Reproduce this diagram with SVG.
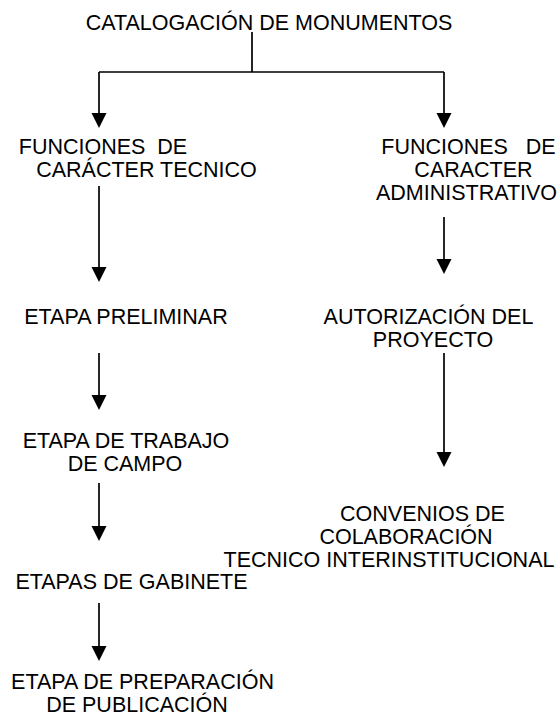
<svg xmlns="http://www.w3.org/2000/svg" width="559" height="717" viewBox="0 0 559 717">
<style>
text{font-family:"Liberation Sans",Arial,sans-serif;font-size:21.5px;fill:#000;white-space:pre;text-anchor:middle}
.c{stroke:#000;stroke-width:1.7;fill:none}
.h{fill:#000}
</style>
<rect width="559" height="717" fill="#fff"/>
<g id="connectors">
<path class="c" d="M252,32 V72 M99,72 H444"/>
<path class="c" d="M99,72 V113"/><path class="h" d="M91.5,113 L106.5,113 L99,128 Z"/>
<path class="c" d="M444,72 V113"/><path class="h" d="M436.5,113 L451.5,113 L444,128 Z"/>
<path class="c" d="M99,186 V267"/><path class="h" d="M91.5,267 L106.5,267 L99,282 Z"/>
<path class="c" d="M444,217 V259"/><path class="h" d="M436.5,259 L451.5,259 L444,274 Z"/>
<path class="c" d="M99,353 V395"/><path class="h" d="M91.5,395 L106.5,395 L99,410 Z"/>
<path class="c" d="M444,353 V452"/><path class="h" d="M436.5,452 L451.5,452 L444,467 Z"/>
<path class="c" d="M99,483 V526"/><path class="h" d="M91.5,526 L106.5,526 L99,541 Z"/>
<path class="c" d="M99,603 V646"/><path class="h" d="M91.5,646 L106.5,646 L99,661 Z"/>
</g>
<g id="n-catalogacion"><text x="269" y="30">CATALOGACIÓN DE MONUMENTOS</text></g>
<g id="n-tecnico"><text x="103" y="154">FUNCIONES  DE</text><text x="146.5" y="177">CARÁCTER TECNICO</text></g>
<g id="n-administrativo"><text x="468.5" y="154">FUNCIONES   DE</text><text x="473.5" y="177">CARACTER</text><text x="466.5" y="200">ADMINISTRATIVO</text></g>
<g id="n-preliminar"><text x="126" y="324">ETAPA PRELIMINAR</text></g>
<g id="n-autorizacion"><text x="428.5" y="324">AUTORIZACIÓN DEL</text><text x="433" y="347">PROYECTO</text></g>
<g id="n-campo"><text x="126" y="448">ETAPA DE TRABAJO</text><text x="125" y="471">DE CAMPO</text></g>
<g id="n-convenios"><text x="422.5" y="521">CONVENIOS DE</text><text x="406" y="544">COLABORACIÓN</text><text x="389" y="567">TECNICO INTERINSTITUCIONAL</text></g>
<g id="n-gabinete"><text x="131.5" y="589">ETAPAS DE GABINETE</text></g>
<g id="n-publicacion"><text x="142.5" y="689">ETAPA DE PREPARACIÓN</text><text x="137" y="711.5">DE PUBLICACIÓN</text></g>
</svg>
